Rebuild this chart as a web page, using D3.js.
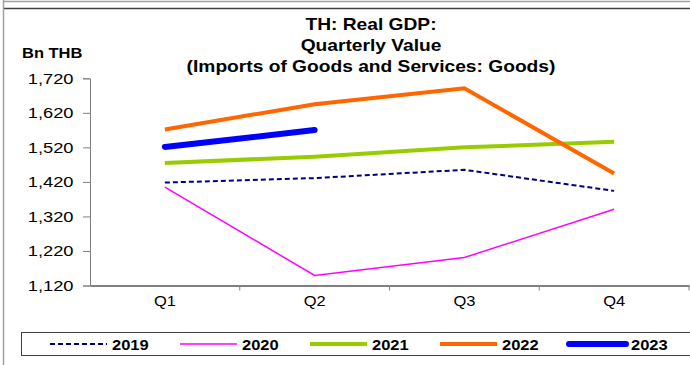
<!DOCTYPE html>
<html>
  <head>
    <title>TH Real GDP imports</title>
    <script src="https://d3js.org/d3.v7.min.js"></script>
    <style>
      body { margin: 0; background: #fff; }
      svg { display: block; font-family: "Liberation Sans", Arial, sans-serif; }
    </style>
  </head>
  <body>
    <svg width="690" height="365"></svg>
    <script>
      // data (Bn THB)
      var quarters = ["Q1", "Q2", "Q3", "Q4"];
      var years = ["2019", "2020", "2021", "2022", "2023"];
      var v2019 = [1418, 1431, 1455, 1394];
      var v2020 = [1405, 1149, 1201, 1341];
      var v2021 = [1475, 1493, 1520, 1536];
      var v2022 = [1572, 1645, 1691, 1444];
      var v2023 = [1521, 1570];
      var yTicks = [1120, 1220, 1320, 1420, 1520, 1620, 1720];

      var series = [
        { name: years[0], values: v2019, color: "#000080", width: 2, dash: "5,3" },
        { name: years[1], values: v2020, color: "#ff00ff", width: 1.5, dash: null },
        { name: years[2], values: v2021, color: "#99cc00", width: 4, dash: null },
        { name: years[3], values: v2022, color: "#ff6600", width: 4, dash: null },
        { name: years[4], values: v2023, color: "#0000ff", width: 6, dash: null }
      ];

      var svg = d3.select("svg");

      // the original text is a bit wider than Arial, so stretch it sideways
      function wide(x, y, sx) {
        return svg.append("g").attr("transform", "translate(" + x + "," + y + ") scale(" + sx + ",1)")
          .append("text");
      }

      // outer frame bits
      svg.append("line").attr("x1", 3).attr("x2", 690).attr("y1", 1.5).attr("y2", 1.5)
        .attr("stroke", "#a0a0a0").attr("stroke-width", 1.5);
      svg.append("line").attr("x1", 3).attr("x2", 690).attr("y1", 8.5).attr("y2", 8.5)
        .attr("stroke", "#404040").attr("stroke-width", 1.5);
      svg.append("line").attr("x1", 3.5).attr("x2", 3.5).attr("y1", 0).attr("y2", 365)
        .attr("stroke", "#a0a0a0").attr("stroke-width", 1.5);

      // title
      ["TH: Real GDP:", "Quarterly Value", "(Imports of Goods and Services: Goods)"].forEach(function(t, i) {
        wide(371, 30 + i * 21, 1.2).attr("text-anchor", "middle")
          .attr("font-weight", "bold").attr("font-size", 16).text(t);
      });
      wide(22, 58, 1.1).attr("font-weight", "bold").attr("font-size", 15).text("Bn THB");

      // scales
      var x = d3.scaleBand().domain(quarters).range([90, 689]);
      var y = d3.scaleLinear().domain([1120, 1720]).range([285.5, 78.3]);

      // y axis
      var yAxis = d3.axisLeft(y).tickValues(yTicks).tickSize(7).tickFormat(d3.format(","));
      var gy = svg.append("g").attr("transform", "translate(90,0)").call(yAxis);
      gy.select(".domain").attr("stroke", "#808080");
      gy.selectAll(".tick line").attr("stroke", "#808080");
      gy.selectAll(".tick text").attr("font-size", 15).attr("fill", "#000")
        .attr("font-family", "Liberation Sans, Arial, sans-serif")
        .attr("x", -13.5).attr("transform", "scale(1.22,1)");

      // x axis: labels at centres, ticks at band edges
      var xAxis = d3.axisBottom(x).tickSize(0).tickPadding(10);
      var gx = svg.append("g").attr("transform", "translate(0,285.5)").call(xAxis);
      gx.select(".domain").attr("stroke", "#808080").attr("stroke-width", 2);
      gx.selectAll(".tick text").attr("font-size", 15).attr("fill", "#000")
        .attr("font-family", "Liberation Sans, Arial, sans-serif").attr("transform", "scale(1.1,1)");
      var edges = quarters.map(function(q) { return x(q) + x.bandwidth(); });
      gx.selectAll(".edge").data(edges).enter().append("line")
        .attr("x1", function(d) { return d; }).attr("x2", function(d) { return d; })
        .attr("y1", 0).attr("y2", 5).attr("stroke", "#808080");

      // lines
      var line = d3.line()
        .x(function(d, i) { return x(quarters[i]) + x.bandwidth() / 2; })
        .y(function(d) { return y(d); });
      svg.selectAll(".series").data(series).enter().append("path")
        .attr("fill", "none")
        .attr("stroke", function(d) { return d.color; })
        .attr("stroke-width", function(d) { return d.width; })
        .attr("stroke-dasharray", function(d) { return d.dash; })
        .attr("stroke-linecap", function(d) { return d.width >= 6 ? "round" : "butt"; })
        .attr("d", function(d) { return line(d.values); });

      // legend
      svg.append("rect").attr("x", 21.5).attr("y", 332.5).attr("width", 670).attr("height", 23)
        .attr("fill", "none").attr("stroke", "#404040");
      var legX = [50, 180, 310, 440, 569];
      var leg = svg.selectAll(".leg").data(series).enter().append("g")
        .attr("transform", function(d, i) { return "translate(" + legX[i] + ",344)"; });
      leg.append("line").attr("x1", 0).attr("x2", 57)
        .attr("stroke", function(d) { return d.color; })
        .attr("stroke-width", function(d) { return d.width; })
        .attr("stroke-dasharray", function(d) { return d.dash; })
        .attr("stroke-linecap", function(d) { return d.width >= 6 ? "round" : "butt"; });
      leg.append("text").attr("transform", "translate(62,6) scale(1.1,1)").attr("font-weight", "bold")
        .attr("font-size", 15).text(function(d) { return d.name; });
    </script>
  </body>
</html>
